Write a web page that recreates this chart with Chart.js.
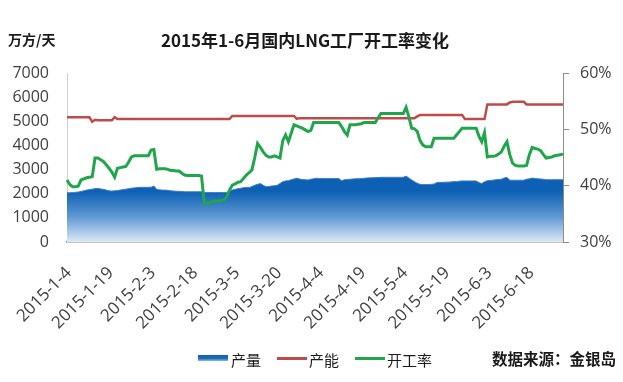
<!DOCTYPE html>
<html>
<head>
<meta charset="utf-8">
<script src="https://cdn.jsdelivr.net/npm/chart.js@4.4.1/dist/chart.umd.min.js"></script>
<style>
  html, body { margin: 0; padding: 0; background: #ffffff; }
  #wrap { position: relative; width: 623px; height: 382px; overflow: hidden; background: #fff; }
  #c { position: absolute; left: 0; top: 0; }
  .txt { position: absolute; white-space: nowrap; font-family: "Noto Sans CJK SC", "Noto Sans", sans-serif; color: #1a1a1a; line-height: 1; }
  .bar { position: absolute; width: 30px; }
</style>
</head>
<body>
<div id="wrap">
  <canvas id="c" width="623" height="382"></canvas>
  <div class="txt" id="unit" style="left:8px; top:32px; font-size:14px; font-weight:bold;">万方/天</div>
  <div class="txt" id="title" style="left:0; width:610px; text-align:center; top:31px; font-size:17px; font-weight:bold;">2015年1-6月国内LNG工厂开工率变化</div>
  <div class="bar" style="left:198px; top:355px; height:6px; background:linear-gradient(to bottom,#1463b4 0%,#1a68b8 55%,#8fbbe6 100%);"></div>
  <div class="txt" style="left:231px; top:352px; font-size:15px;">产量</div>
  <div class="bar" style="left:277px; top:357px; height:3px; background:#be4b48;"></div>
  <div class="txt" style="left:309px; top:352px; font-size:15px;">产能</div>
  <div class="bar" style="left:355px; top:357px; height:3px; background:#1fa64a;"></div>
  <div class="txt" style="left:387px; top:352px; font-size:15px;">开工率</div>
  <div class="txt" style="left:492px; top:351px; font-size:15.5px; font-weight:bold;">数据来源：金银岛</div>
</div>
<script>
// Daily categories from 2015-1-4 to 2015-6-30
const startDate = [2015, 1, 4];
const dayCount = 178;
const tickLabels = ['2015-1-4','2015-1-19','2015-2-3','2015-2-18','2015-3-5','2015-3-20',
                    '2015-4-4','2015-4-19','2015-5-4','2015-5-19','2015-6-3','2015-6-18'];
const tickEvery = 15;

// 产量 (万方/天)
const production = [
  2040,2040,2050,2060,2070,2090,2120,2150,2170,2190,
  2210,2220,2200,2180,2150,2120,2110,2120,2130,2150,
  2170,2190,2210,2230,2240,2255,2265,2265,2265,2265,
  2270,2320,2180,2160,2150,2150,2140,2120,2110,2100,
  2100,2090,2080,2080,2080,2080,2080,2080,2080,2050,
  2050,2050,2050,2050,2050,2050,2050,2050,2100,2150,
  2180,2210,2230,2250,2265,2250,2300,2350,2390,2420,
  2350,2290,2300,2320,2330,2350,2420,2500,2530,2540,
  2580,2610,2640,2610,2590,2580,2570,2600,2620,2640,
  2630,2630,2630,2630,2630,2630,2630,2630,2540,2580,
  2590,2600,2610,2620,2620,2630,2640,2650,2660,2660,
  2670,2670,2680,2680,2680,2680,2680,2680,2680,2680,
  2680,2730,2650,2570,2500,2430,2390,2380,2380,2380,
  2390,2400,2460,2470,2470,2480,2480,2490,2500,2500,
  2520,2530,2530,2530,2530,2530,2530,2460,2420,2500,
  2540,2550,2560,2580,2590,2600,2650,2680,2560,2560,
  2560,2560,2560,2560,2600,2620,2650,2630,2620,2610,
  2600,2580,2580,2580,2580,2580,2580,2580
];

// 产能 (万方/天)
const capacity = [
  5170,5170,5170,5170,5170,5170,5170,5170,5170,4980,
  5060,5040,5040,5040,5040,5040,5040,5170,5090,5090,
  5090,5090,5090,5090,5090,5090,5090,5090,5090,5090,
  5090,5090,5090,5090,5090,5090,5090,5090,5090,5090,
  5090,5090,5090,5090,5090,5090,5090,5090,5090,5090,
  5090,5090,5090,5090,5090,5090,5090,5090,5090,5220,
  5220,5220,5220,5220,5220,5220,5220,5220,5220,5220,
  5220,5220,5220,5220,5220,5220,5220,5220,5220,5220,
  5220,5220,5100,5130,5130,5130,5130,5130,5130,5130,
  5130,5130,5130,5130,5130,5130,5130,5130,5130,5130,
  5130,5130,5130,5130,5130,5130,5130,5130,5130,5130,
  5130,5130,5130,5130,5130,5130,5130,5130,5130,5130,
  5130,5130,5130,5130,5130,5200,5260,5260,5260,5260,
  5260,5260,5260,5260,5260,5260,5260,5260,5260,5260,
  5260,5260,5090,5090,5090,5090,5090,5090,5090,5090,
  5700,5700,5700,5700,5700,5700,5700,5700,5780,5810,
  5810,5810,5810,5810,5700,5700,5700,5700,5700,5700,
  5700,5700,5700,5700,5700,5700,5700,5700
];

// 开工率 (%)
const rate = [
  41.0,40.2,39.8,39.8,39.9,41.0,41.2,41.4,41.5,41.6,
  44.9,44.9,44.6,44.3,43.7,43.1,42.4,41.5,43.1,43.2,
  43.3,43.4,44.2,45.1,45.3,45.3,45.3,45.3,45.3,45.3,
  46.3,46.4,42.9,43.0,43.0,43.0,42.9,42.7,42.7,42.6,
  42.6,42.2,41.9,41.8,41.8,41.8,41.8,41.8,41.7,36.9,
  36.9,36.9,37.2,37.3,37.3,37.3,37.5,38.0,39.2,40.1,
  40.3,40.6,40.7,41.3,41.9,42.3,42.8,45.0,47.5,46.8,
  46.0,45.4,45.1,45.1,45.3,45.1,44.9,48.0,49.0,47.8,
  49.3,50.8,50.6,50.4,50.2,49.9,49.6,49.8,51.2,51.2,
  51.2,51.2,51.2,51.2,51.2,51.2,51.2,51.2,50.5,49.6,
  49.0,50.8,50.8,50.8,50.9,51.0,51.2,51.2,51.2,51.2,
  51.2,52.0,52.8,52.8,52.8,52.8,52.8,52.8,52.8,52.8,
  52.8,53.9,52.2,50.2,50.1,49.6,48.0,47.2,46.9,46.9,
  46.9,48.4,48.4,48.4,48.4,48.4,48.4,48.4,48.4,49.0,
  49.6,50.2,50.2,50.2,50.2,50.2,50.2,48.8,47.8,49.4,
  45.1,45.2,45.2,45.3,45.6,46.0,47.0,47.8,45.5,44.0,
  43.6,43.5,43.5,43.5,43.6,45.5,46.8,46.6,46.5,46.2,
  45.5,44.9,45.0,45.1,45.3,45.4,45.5,45.6
];

const leftTicks = [0, 7000, 1000];
const rightTicks = [30, 60, 10];

const categories = [];
{
  const d = new Date(startDate[0], startDate[1] - 1, startDate[2]);
  for (let i = 0; i < dayCount; i++) {
    categories.push(d.getFullYear() + '-' + (d.getMonth() + 1) + '-' + d.getDate());
    d.setDate(d.getDate() + 1);
  }
}

function areaGradient(context) {
  const chart = context.chart;
  const a = chart.chartArea;
  if (!a) return '#1463b4';
  const g = chart.ctx.createLinearGradient(0, a.top, 0, a.bottom);
  g.addColorStop(0, '#0a5cb1');
  g.addColorStop(0.70, '#0d60b4');
  g.addColorStop(0.85, '#5f98d3');
  g.addColorStop(1, '#dce9f6');
  return g;
}

const tickFont = { family: '"Open Sans", "DejaVu Sans", sans-serif', size: 16 };
const xTickFont = { family: '"Open Sans", "DejaVu Sans", sans-serif', size: 17 };

new Chart(document.getElementById('c').getContext('2d'), {
  type: 'line',
  data: {
    labels: categories,
    datasets: [
      { label: '开工率', data: rate, yAxisID: 'y1', borderColor: '#1fa64a', borderWidth: 3,
        pointRadius: 0, tension: 0, fill: false, order: 0 },
      { label: '产能', data: capacity, yAxisID: 'y', borderColor: '#be4b48', borderWidth: 2.5,
        pointRadius: 0, tension: 0, fill: false, order: 1 },
      { label: '产量', data: production, yAxisID: 'y', borderColor: '#3b7fc6', borderWidth: 1,
        backgroundColor: areaGradient, pointRadius: 0, tension: 0, fill: 'origin', order: 2 }
    ]
  },
  options: {
    responsive: false,
    animation: false,
    layout: { padding: { top: 73, left: 0, right: 0, bottom: 0 } },
    plugins: { legend: { display: false }, tooltip: { enabled: false } },
    scales: {
      x: {
        type: 'category',
        offset: false,
        grid: { display: false, drawTicks: false },
        border: { display: true, color: '#8c8c8c', width: 1.5 },
        ticks: {
          autoSkip: false, maxRotation: 45, minRotation: 45, padding: 21, labelOffset: 2,
          color: '#404040', font: xTickFont,
          callback: function(v, i) { return i % tickEvery === 0 ? tickLabels[i / tickEvery] : ''; }
        },
        afterFit: function(s) { s.height = 140; s.paddingLeft = 0; s.paddingRight = 0; }
      },
      y: {
        position: 'left',
        min: leftTicks[0], max: leftTicks[1],
        grid: { display: false, drawTicks: false },
        border: { display: true, color: '#d0d0d0', width: 1 },
        ticks: { stepSize: leftTicks[2], padding: 18, color: '#404040', font: tickFont,
                 callback: function(v) { return String(v); } },
        afterFit: function(s) { s.width = 67; }
      },
      y1: {
        position: 'right',
        min: rightTicks[0], max: rightTicks[1],
        grid: { display: true, drawOnChartArea: false, drawTicks: true, tickLength: 6, color: '#8c8c8c' },
        border: { display: true, color: '#8c8c8c', width: 1 },
        ticks: { stepSize: rightTicks[2], padding: 11, color: '#404040', font: tickFont,
                 callback: function(v) { return v + '%'; } },
        afterFit: function(s) { s.width = 60; }
      }
    }
  }
});
</script>
</body>
</html>
